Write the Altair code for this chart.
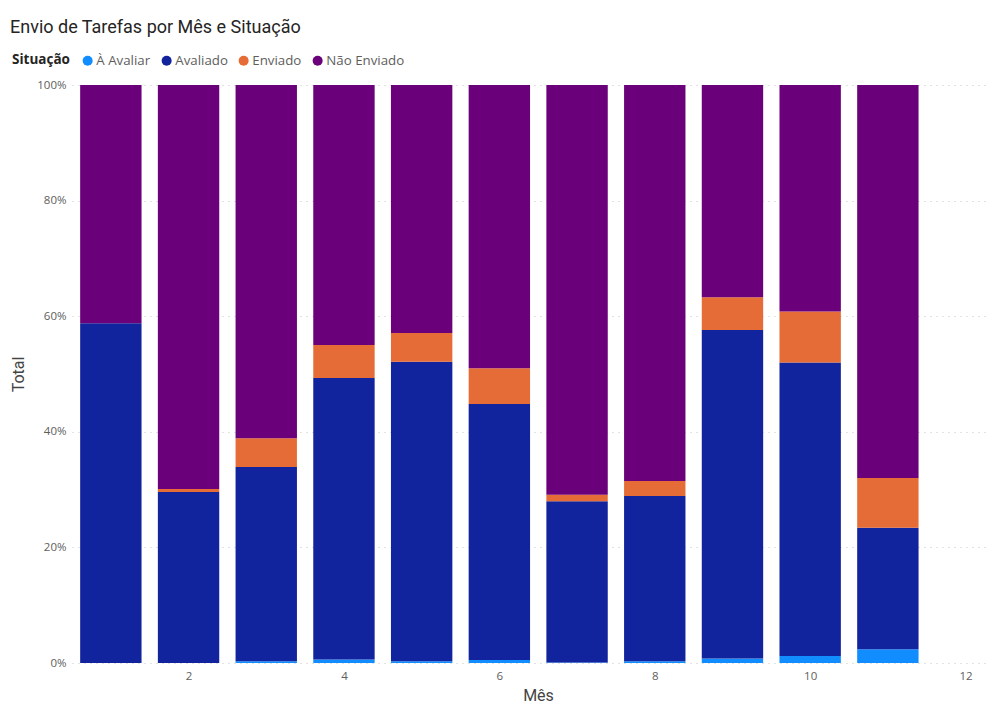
import altair as alt
import pandas as pd

# Share of tasks by month and status (percent of each month's total)
meses = [1, 2, 3, 4, 5, 6, 7, 8, 9, 10, 11]
a_avaliar = [0.0, 0.0, 0.3, 0.6, 0.3, 0.5, 0.1, 0.3, 0.8, 1.2, 2.4]
avaliado = [58.8, 29.6, 33.6, 48.7, 51.8, 44.3, 27.9, 28.6, 56.8, 50.8, 21.0]
enviado = [0.0, 0.5, 5.0, 5.7, 5.0, 6.2, 1.1, 2.6, 5.7, 8.8, 8.6]
nao_enviado = [round(100 - a - b - c, 1) for a, b, c in zip(a_avaliar, avaliado, enviado)]

situacoes = ["À Avaliar", "Avaliado", "Enviado", "Não Enviado"]
cores = ["#118DFF", "#12239E", "#E66C37", "#6B007B"]

linhas = []
for i, m in enumerate(meses):
    for ordem, (nome, serie) in enumerate(zip(situacoes, [a_avaliar, avaliado, enviado, nao_enviado])):
        linhas.append({"mes": m, "situacao": nome, "total": serie[i], "ordem": ordem})
df = pd.DataFrame(linhas)

FONTE_TITULO = "Roboto"
FONTE = "Open Sans"
meia_barra = 0.395

chart = (
    alt.Chart(df)
    .transform_stack(
        stack="total",
        groupby=["mes"],
        as_=["base", "topo"],
        offset="normalize",
        sort=[alt.SortField("ordem", order="ascending")],
    )
    .transform_calculate(ini=f"datum.mes - {meia_barra}", fim=f"datum.mes + {meia_barra}")
    .mark_bar()
    .encode(
        x=alt.X(
            "ini:Q",
            title="Mês",
            scale=alt.Scale(domain=[0.5, 12.25], nice=False, zero=False),
            axis=alt.Axis(
                values=[2, 4, 6, 8, 10, 12],
                grid=False,
                domain=False,
                ticks=False,
                labelPadding=7,
                labelFontSize=11.5,
                labelColor="#605E5C",
                labelFont=FONTE,
                titleFont=FONTE_TITULO,
                titleFontSize=16,
                titleFontWeight="normal",
                titleColor="#444444",
                titlePadding=6,
                titleX=466,
                titleAlign="center",
            ),
        ),
        x2="fim:Q",
        y=alt.Y(
            "base:Q",
            title="Total",
            scale=alt.Scale(domain=[0, 1], nice=False),
            axis=alt.Axis(
                values=[0, 0.2, 0.4, 0.6, 0.8, 1.0],
                format=".0%",
                domain=False,
                ticks=False,
                gridDash=[1, 5],
                gridColor="#C8C8C8",
                gridWidth=1.2,
                labelPadding=6,
                labelFontSize=11.5,
                labelColor="#605E5C",
                labelFont=FONTE,
                titleFont=FONTE_TITULO,
                titleFontSize=16,
                titleFontWeight="normal",
                titleColor="#444444",
                titlePadding=10,
            ),
        ),
        y2="topo:Q",
        color=alt.Color(
            "situacao:N",
            scale=alt.Scale(domain=situacoes, range=cores),
            legend=alt.Legend(
                orient="none",
                direction="horizontal",
                legendX=-60,
                legendY=-31,
                titleOrient="left",
                title="Situação",
                titleFont=FONTE,
                titleFontSize=13.5,
                titleFontWeight="bold",
                titleColor="#252423",
                labelFont=FONTE,
                labelFontSize=13.3,
                labelColor="#605E5C",
                symbolType="circle",
                symbolSize=100,
                symbolStrokeWidth=0,
                labelOffset=2,
                columnPadding=9,
                titlePadding=11,
            ),
        ),
    )
    .properties(
        width=913,
        height=578,
        title=alt.TitleParams(
            "Envio de Tarefas por Mês e Situação",
            anchor="start",
            frame="group",
            dx=-62,
            font=FONTE_TITULO,
            fontSize=18,
            fontWeight="normal",
            color="#252423",
            offset=17,
        ),
        autosize=alt.AutoSizeParams(type="none"),
        padding={"left": 72, "top": 85, "right": 1, "bottom": 42},
    )
    .configure_view(stroke=None)
)

chart.save("out.html", embed_options={"renderer": "svg", "actions": False})
